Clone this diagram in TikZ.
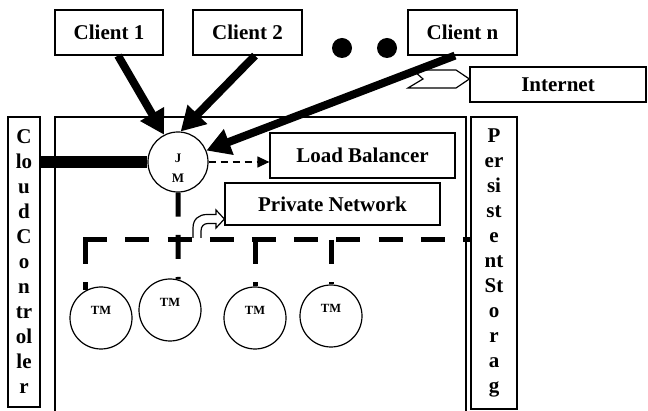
\documentclass[tikz,border=0pt]{standalone}
\usepackage{fontspec}
\setmainfont{Liberation Serif}
\usepackage{tikz}
\usetikzlibrary{arrows.meta, calc}

\begin{document}
\begin{tikzpicture}[x=1pt, y=-1pt,
  box/.style={draw, line width=1.2pt, inner sep=0pt, font=\fontsize{21}{24}\selectfont\bfseries},
  tallbox/.style={box, align=center, font=\fontsize{21}{25}\selectfont\bfseries},
  mgr/.style={draw, circle, line width=1.2pt, fill=white, inner sep=0pt},
  mgrlabel/.style={inner sep=0pt, align=center, font=\fontsize{12.5}{19}\selectfont\bfseries},
  bigarrow/.style={line width=8pt, -{Triangle[length=24pt, width=26pt]}},
  netline/.style={line width=5pt, dash pattern=on 24pt off 18.2pt}
]
  \useasboundingbox (0,0) rectangle (648,411);

  % Clients (top row)
  \node[box, minimum width=108pt, minimum height=45pt] (client1) at (109,32.5) {Client 1};
  \node[box, minimum width=109pt, minimum height=45pt] (client2) at (247.5,32.5) {Client 2};
  \node[box, minimum width=109pt, minimum height=45pt] (clientn) at (462.5,32.5) {Client n};
  \node[circle, fill, inner sep=0pt, minimum size=20pt] (dot1) at (342,48) {};
  \node[circle, fill, inner sep=0pt, minimum size=20pt] (dot2) at (387,48) {};

  % Internet link
  \node[box, minimum width=176pt, minimum height=35pt] (internet) at (558,84.5) {Internet};
  \draw[line width=1.2pt, fill=white] (413,70) -- (456,70) -- (internet.west |- 0,79) -- (456,88) -- (408,88) -- (423,79) -- cycle;

  % Cloud frame and side stores
  \draw[line width=1.2pt] (55,411) |- (466,117) -- (466,411);
  \node[tallbox, minimum width=32pt, minimum height=290pt] (cc) at (24,262)
    {C\\lo\\u\\d\\C\\o\\n\\tr\\ol\\le\\r};
  \node[tallbox, minimum width=46pt, minimum height=292pt] (storage) at (494,263)
    {P\\er\\si\\st\\e\\nt\\St\\o\\r\\a\\g};

  % Job manager
  \node[mgr, minimum size=60pt] (jm) at (178,162) {};
  \node[mgrlabel, font=\fontsize{13}{20}\selectfont\bfseries] (jmlabel) at (178,168) {J\\M};
  \draw[line width=12pt] (cc.east |- jm) -- (jm.west);

  % Load balancer and private network
  \node[box, minimum width=185pt, minimum height=45pt] (lb) at (362.5,155.5) {Load Balancer};
  \node[box, minimum width=215pt, minimum height=42pt] (pn) at (332.5,204) {Private Network};
  \draw[line width=1.2pt, dash pattern=on 7pt off 5pt, -{Triangle[length=12pt, width=11pt]}]
    (jm.east) -- (jm.east -| lb.west);

  % Task managers
  \foreach \i/\x/\y in {1/101/318, 2/170/310, 3/255/318, 4/331/316} {
    \node[mgr, minimum size=62pt] (tm\i) at (\x,\y) {};
    \node[mgrlabel] (tmlabel\i) at (\x,\y-8) {TM};
  }

  % Network bus
  \coordinate (net) at (0,240);
  \draw[netline] ([xshift=-2.5pt]tm1.119 |- net) -- (storage.west |- net);
  \draw[netline] (tm1.119 |- net) -- (tm1.119);
  \draw[netline] (jm.south) -- (tm2.75);
  \draw[netline] (tm3.north |- net) -- (tm3.north);
  \draw[netline] (tm4.north |- net) -- (tm4.north);
  \draw[line width=1.2pt, fill=white] (193,238) -- (193,228) .. controls (193,219) and (199,214.5) .. (207,214.5)
    -- (216,214.5) -- (216,210) -- (pn.west |- 0,219) -- (216,228) -- (216,223.5) -- (208,223.5)
    .. controls (204,223.5) and (201,226) .. (201,231) -- (201,238);

  % Client requests
  \draw[bigarrow] ([xshift=9pt]client1.south) -- (jm.117);
  \draw[bigarrow] ([xshift=7.5pt]client2.south) -- (jm.85);
  \draw[bigarrow] ([xshift=-7.5pt]clientn.south) -- (jm.22);
\end{tikzpicture}
\end{document}
